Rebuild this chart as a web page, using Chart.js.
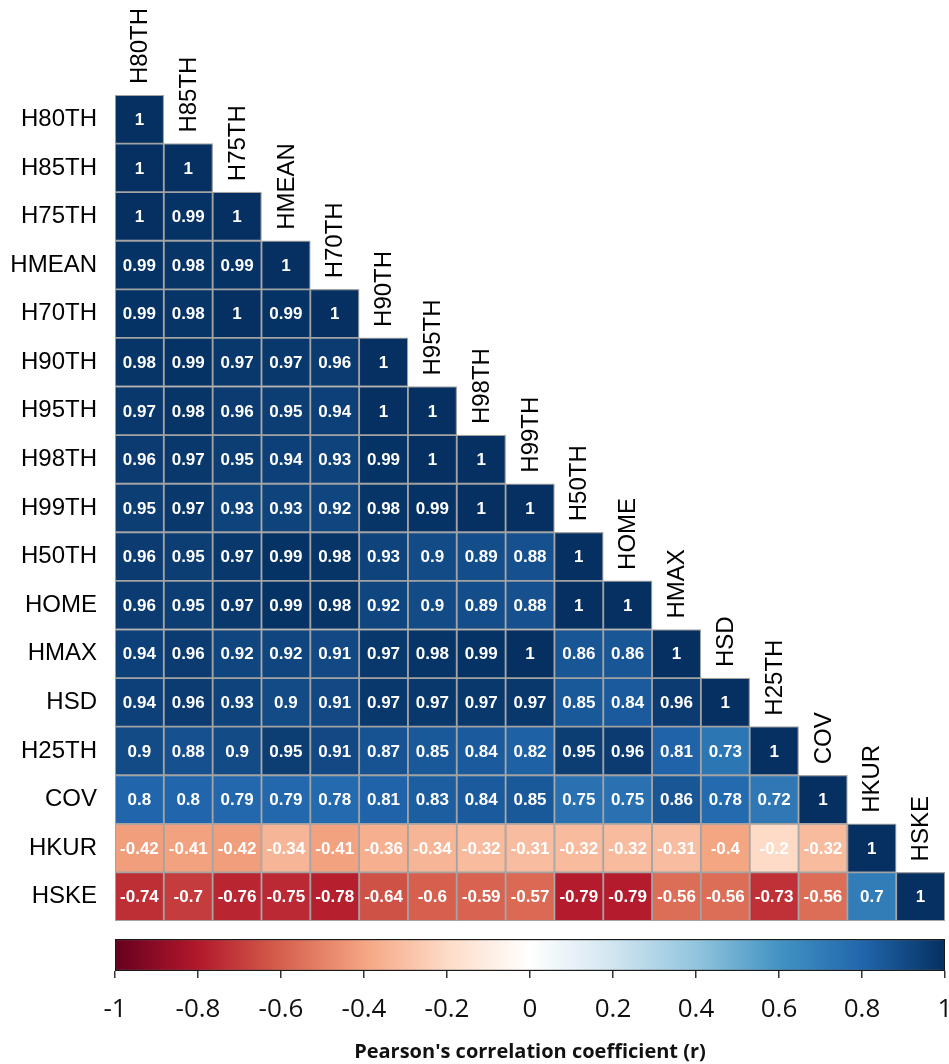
<!DOCTYPE html>
<html>
<head>
<meta charset="utf-8">
<title>Correlation matrix</title>
<script src="https://cdn.jsdelivr.net/npm/chart.js@4/dist/chart.umd.min.js"></script>
<style>
  html, body { margin: 0; padding: 0; background: #ffffff; }
  #wrap { position: relative; width: 949px; height: 1064px; }
  #matrix { position: absolute; left: 0; top: 0; }
  #bar { position: absolute; left: 0; top: 930px; }
</style>
</head>
<body>
<div id="wrap">
  <canvas id="matrix" width="949" height="930"></canvas>
  <canvas id="bar" width="949" height="134"></canvas>
</div>
<script>
// Variables, in matrix order (rows top to bottom, columns left to right)
const variables = ['H80TH','H85TH','H75TH','HMEAN','H70TH','H90TH','H95TH','H98TH','H99TH',
                   'H50TH','HOME','HMAX','HSD','H25TH','COV','HKUR','HSKE'];

// Lower triangle of the Pearson correlation matrix, one array per row
const rowH80TH = [1];
const rowH85TH = [1, 1];
const rowH75TH = [1, 0.99, 1];
const rowHMEAN = [0.99, 0.98, 0.99, 1];
const rowH70TH = [0.99, 0.98, 1, 0.99, 1];
const rowH90TH = [0.98, 0.99, 0.97, 0.97, 0.96, 1];
const rowH95TH = [0.97, 0.98, 0.96, 0.95, 0.94, 1, 1];
const rowH98TH = [0.96, 0.97, 0.95, 0.94, 0.93, 0.99, 1, 1];
const rowH99TH = [0.95, 0.97, 0.93, 0.93, 0.92, 0.98, 0.99, 1, 1];
const rowH50TH = [0.96, 0.95, 0.97, 0.99, 0.98, 0.93, 0.9, 0.89, 0.88, 1];
const rowHOME  = [0.96, 0.95, 0.97, 0.99, 0.98, 0.92, 0.9, 0.89, 0.88, 1, 1];
const rowHMAX  = [0.94, 0.96, 0.92, 0.92, 0.91, 0.97, 0.98, 0.99, 1, 0.86, 0.86, 1];
const rowHSD   = [0.94, 0.96, 0.93, 0.9, 0.91, 0.97, 0.97, 0.97, 0.97, 0.85, 0.84, 0.96, 1];
const rowH25TH = [0.9, 0.88, 0.9, 0.95, 0.91, 0.87, 0.85, 0.84, 0.82, 0.95, 0.96, 0.81, 0.73, 1];
const rowCOV   = [0.8, 0.8, 0.79, 0.79, 0.78, 0.81, 0.83, 0.84, 0.85, 0.75, 0.75, 0.86, 0.78, 0.72, 1];
const rowHKUR  = [-0.42, -0.41, -0.42, -0.34, -0.41, -0.36, -0.34, -0.32, -0.31, -0.32, -0.32, -0.31, -0.4, -0.2, -0.32, 1];
const rowHSKE  = [-0.74, -0.7, -0.76, -0.75, -0.78, -0.64, -0.6, -0.59, -0.57, -0.79, -0.79, -0.56, -0.56, -0.73, -0.56, 0.7, 1];

// Colour bar ticks
const scaleTicks = [-1, -0.8, -0.6, -0.4, -0.2, 0, 0.2, 0.4, 0.6, 0.8, 1];

const matrixRows = [rowH80TH, rowH85TH, rowH75TH, rowHMEAN, rowH70TH, rowH90TH, rowH95TH, rowH98TH,
                    rowH99TH, rowH50TH, rowHOME, rowHMAX, rowHSD, rowH25TH, rowCOV, rowHKUR, rowHSKE];

// Diverging red-blue palette from -1 to 1
const palette = ['#67001F','#B2182B','#D6604D','#F4A582','#FDDBC7','#FFFFFF',
                 '#D1E5F0','#92C5DE','#4393C3','#2166AC','#053061'];

function hexToRgb(h) {
  return [parseInt(h.slice(1,3),16), parseInt(h.slice(3,5),16), parseInt(h.slice(5,7),16)];
}
function colorFor(v) {
  const t = (Math.max(-1, Math.min(1, v)) + 1) / 2 * (palette.length - 1);
  const i = Math.min(palette.length - 2, Math.floor(t));
  const f = t - i;
  const a = hexToRgb(palette[i]), b = hexToRgb(palette[i + 1]);
  const c = a.map((x, k) => Math.round(x + (b[k] - x) * f));
  return `rgb(${c[0]},${c[1]},${c[2]})`;
}

// One floating-bar dataset per column; each cell spans one unit of the x scale
const datasets = variables.map((colName, c) => {
  const pts = [];
  for (let r = c; r < variables.length; r++) {
    pts.push({ y: variables[r], x: [c - 0.5, c + 0.5], v: matrixRows[r][c] });
  }
  return {
    label: colName,
    data: pts,
    backgroundColor: pts.map(p => colorFor(p.v)),
    borderColor: '#a3a3a3',
    borderWidth: 1.25,
    borderSkipped: false,
    grouped: false,
    barPercentage: 1,
    categoryPercentage: 1
  };
});

// Writes the coefficient inside each cell and the rotated column names along the diagonal
const cellText = {
  id: 'cellText',
  afterDatasetsDraw(chart) {
    const ctx = chart.ctx;
    ctx.save();
    ctx.fillStyle = '#ffffff';
    ctx.font = 'bold 17px "Liberation Sans", Arial, sans-serif';
    ctx.textAlign = 'center';
    ctx.textBaseline = 'middle';
    chart.data.datasets.forEach((ds, di) => {
      const meta = chart.getDatasetMeta(di);
      meta.data.forEach((el, i) => {
        const p = el.getProps(['x', 'y', 'base'], true);
        ctx.fillText(String(ds.data[i].v), (p.x + p.base) / 2, p.y + 1);
      });
    });
    ctx.restore();
  },
  afterDraw(chart) {
    const ctx = chart.ctx;
    const xs = chart.scales.x, ys = chart.scales.y;
    const half = (ys.getPixelForValue(1) - ys.getPixelForValue(0)) / 2;
    ctx.save();
    ctx.fillStyle = '#000000';
    ctx.font = '24px "Liberation Sans", Arial, sans-serif';
    ctx.textAlign = 'left';
    ctx.textBaseline = 'middle';
    variables.forEach((name, c) => {
      const x = xs.getPixelForValue(c);
      const top = ys.getPixelForValue(c) - half;
      ctx.save();
      ctx.translate(x + 1, top - 11);
      ctx.rotate(-Math.PI / 2);
      ctx.fillText(name, 0, 0);
      ctx.restore();
    });
    ctx.restore();
  }
};

new Chart(document.getElementById('matrix'), {
  type: 'bar',
  data: { labels: variables, datasets },
  options: {
    indexAxis: 'y',
    responsive: false,
    devicePixelRatio: 1,
    animation: false,
    layout: { padding: { left: 0, right: 4, top: 95, bottom: 9 } },
    plugins: { legend: { display: false }, tooltip: { enabled: false } },
    scales: {
      x: { type: 'linear', min: -0.5, max: variables.length - 0.5, display: false },
      y: {
        type: 'category',
        offset: true,
        grid: { display: false, drawTicks: false },
        border: { display: false },
        ticks: {
          color: '#000000',
          padding: 18,
          font: { family: '"Liberation Sans", Arial, sans-serif', size: 24 }
        },
        afterFit(s) { s.width = 115; s.paddingTop = 0; s.paddingBottom = 0; }
      }
    }
  },
  plugins: [cellText]
});

// Colour key: a single floating bar from -1 to 1 filled with the palette gradient
new Chart(document.getElementById('bar'), {
  type: 'bar',
  data: {
    labels: ['r'],
    datasets: [{
      data: [{ y: 'r', x: [scaleTicks[0], scaleTicks[scaleTicks.length - 1]] }],
      backgroundColor(context) {
        const chart = context.chart;
        const xs = chart.scales.x;
        if (!xs || !chart.chartArea) return palette[5];
        const g = chart.ctx.createLinearGradient(xs.getPixelForValue(-1), 0, xs.getPixelForValue(1), 0);
        palette.forEach((col, i) => g.addColorStop(i / (palette.length - 1), col));
        return g;
      },
      borderColor: '#1a1a1a',
      borderWidth: 1.5,
      borderSkipped: false,
      barPercentage: 1,
      categoryPercentage: 1
    }]
  },
  options: {
    indexAxis: 'y',
    responsive: false,
    devicePixelRatio: 1,
    animation: false,
    layout: { padding: { left: 115, right: 4, top: 9, bottom: 0 } },
    plugins: { legend: { display: false }, tooltip: { enabled: false } },
    scales: {
      y: { display: false },
      x: {
        type: 'linear',
        min: -1,
        max: 1,
        afterBuildTicks(s) { s.ticks = scaleTicks.map(v => ({ value: v })); },
        grid: { drawOnChartArea: false, drawTicks: true, tickLength: 7, color: '#333333', lineWidth: 1.5 },
        border: { display: false },
        ticks: {
          color: '#111111',
          padding: 16,
          autoSkip: false,
          maxRotation: 0,
          font: { family: '"Open Sans", sans-serif', size: 26 },
          callback: v => String(Math.round(v * 10) / 10)
        },
        title: {
          display: true,
          align: 'center',
          text: "Pearson's correlation coefficient (r)",
          color: '#111111',
          padding: { top: 0, bottom: 0 },
          font: { family: '"Open Sans", sans-serif', size: 20, weight: 'bold' }
        },
        afterFit(s) { s.height = 93; s.paddingLeft = 0; s.paddingRight = 0; }
      }
    }
  }
});
</script>
</body>
</html>
